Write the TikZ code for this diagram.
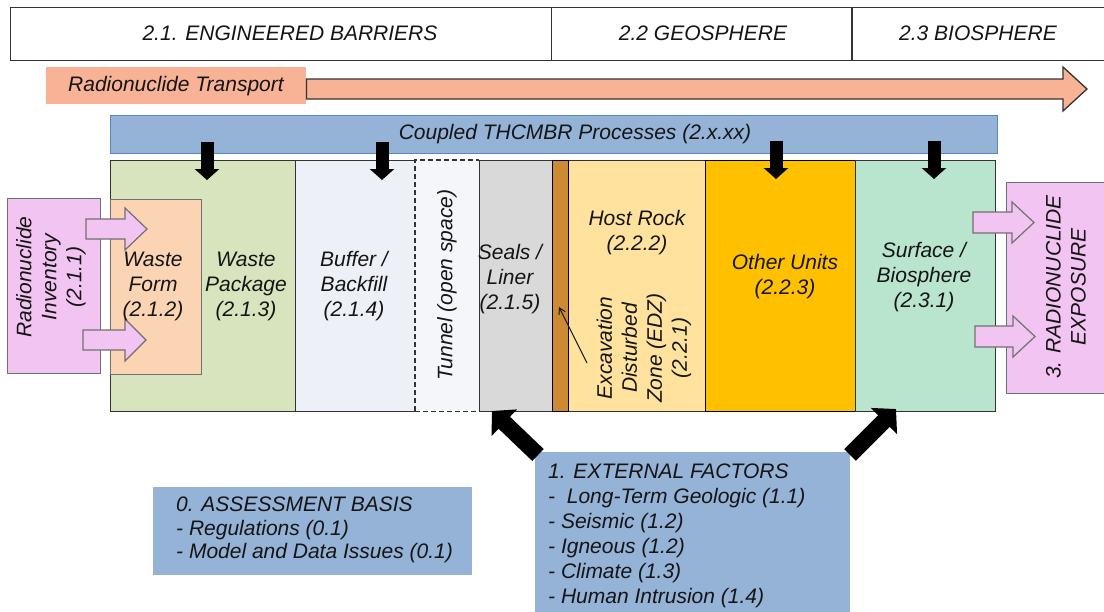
\documentclass[tikz,border=0pt]{standalone}
\usepackage{fontspec}
\setmainfont{Liberation Sans}
\usetikzlibrary{arrows.meta}

\definecolor{ink}{HTML}{151515}
\definecolor{edge}{HTML}{333333}
\definecolor{softedge}{HTML}{707070}
\definecolor{salmon}{HTML}{F8B296}
\definecolor{steel}{HTML}{95B3D7}
\definecolor{steeledge}{HTML}{5B87C0}
\definecolor{wpgreen}{HTML}{D7E4BD}
\definecolor{peach}{HTML}{FBD4B4}
\definecolor{orchid}{HTML}{F2C4F2}
\definecolor{bufferfill}{HTML}{EEF0F8}
\definecolor{tunnelfill}{HTML}{F5F6FA}
\definecolor{sealgray}{HTML}{D9D9D9}
\definecolor{edzbrown}{HTML}{CC8A33}
\definecolor{hostfill}{HTML}{FEE29E}
\definecolor{otherfill}{HTML}{FFC000}
\definecolor{surffill}{HTML}{B9E5CF}

\begin{document}
\begin{tikzpicture}[x=1pt,y=-1pt,
  rectbox/.style={draw=edge, line width=1.3pt, inner sep=0pt, anchor=north west},
  lbl/.style={font=\fontsize{21}{25}\selectfont\itshape, align=center, text=ink, inner sep=0pt},
  lefttext/.style={font=\fontsize{21}{25}\selectfont\itshape, align=left, text=ink, inner sep=0pt, anchor=north west},
  downarr/.style={line width=13pt, black, -{Triangle[width=24pt,length=11pt]}},
  bigarr/.style={line width=16.5pt, black, -{Triangle[width=36pt,length=17pt]}},
  blockarr/.style={fill=orchid, draw=softedge, line width=1.2pt, line join=miter},
]
\useasboundingbox (0,0) rectangle (1104,611);
\clip (0,0) rectangle (1104,611);

% section header
\node[rectbox, fill=white, minimum width=541pt, minimum height=53pt] (hdrEB) at (10,7) {};
\node[rectbox, fill=white, minimum width=301pt, minimum height=53pt] (hdrGEO) at (551,7) {};
\node[rectbox, fill=white, minimum width=260pt, minimum height=53pt] (hdrBIO) at (852,7) {};
\draw[edge, line width=2.4pt] (hdrBIO.north west) -- (hdrBIO.south west);
\node[lbl] (tEB) at (290,33) {2.1. ENGINEERED BARRIERS};
\node[lbl] (tGEO) at (703,33) {2.2 GEOSPHERE};
\node[lbl] (tBIO) at (978,33) {2.3 BIOSPHERE};

% radionuclide transport
\node[inner sep=0pt, anchor=north west, fill=salmon, minimum width=260pt, minimum height=37pt] (trans) at (46,67) {};
\node[lbl] (tTrans) at (176,86) {Radionuclide Transport};
\filldraw[fill=salmon, draw=edge, line width=1.3pt, line join=miter]
  (trans.east |- 0,79) -- (1063,79) -- (1063,67) -- (1087,89) -- (1063,111) -- (1063,99) -- (trans.east |- 0,99) -- cycle;

% coupled processes band
\node[rectbox, fill=steel, draw=steeledge, line width=1pt, minimum width=887pt, minimum height=38pt] (coupled) at (110,115) {};
\node[lbl] (tCoupled) at (575,134) {Coupled THCMBR Processes (2.x.xx)};

% barrier and geosphere compartments
\node[rectbox, fill=wpgreen, minimum width=185pt, minimum height=251pt] (wp) at (110,160) {};
\node[rectbox, fill=bufferfill, minimum width=120pt, minimum height=251pt] (buf) at (295,160) {};
\node[inner sep=0pt, anchor=north west, fill=tunnelfill, minimum width=64pt, minimum height=251pt] (tun) at (415,160) {};
\draw[edge, line width=1.1pt, dash pattern=on 5pt off 3pt] (tun.south west) -- (tun.north west) -- (tun.north east);
\draw[edge, line width=1.1pt, dash pattern=on 5pt off 3pt] (tun.south west) -- (tun.south east);
\node[rectbox, fill=sealgray, minimum width=73pt, minimum height=251pt] (seal) at (479,160) {};
\node[rectbox, fill=hostfill, minimum width=137pt, minimum height=251pt] (host) at (568,160) {};
\node[rectbox, fill=edzbrown, draw=black, minimum width=16pt, minimum height=251pt] (edz) at (552,160) {};
\node[rectbox, fill=otherfill, draw=black, minimum width=150pt, minimum height=251pt] (other) at (705,160) {};
\node[rectbox, fill=surffill, minimum width=140pt, minimum height=251pt] (surf) at (855,160) {};

\node[rectbox, fill=peach, draw=softedge, minimum width=91pt, minimum height=175pt] (wf) at (110,199) {};
\node[rectbox, fill=orchid, draw=softedge, minimum width=93pt, minimum height=175pt] (inv) at (7,198) {};
\node[rectbox, fill=orchid, draw=softedge, minimum width=110pt, minimum height=211pt] (expo) at (1006,182) {};

% inventory release arrows
\filldraw[blockarr] (86,219) -- (125,219) -- (125,208) -- (147,229) -- (125,250) -- (125,239) -- (86,239) -- cycle;
\filldraw[blockarr] (83,330) -- (125,330) -- (125,319) -- (146,340) -- (125,361) -- (125,350) -- (83,350) -- cycle;
% exposure arrows
\filldraw[blockarr] (973,212) -- (1012,212) -- (1012,202) -- (1034,222.5) -- (1012,243) -- (1012,233) -- (973,233) -- cycle;
\filldraw[blockarr] (975,326) -- (1013,326) -- (1013,316) -- (1035,336.5) -- (1013,357) -- (1013,347) -- (975,347) -- cycle;

% compartment labels
\node[lbl] (tInv) at (51,277) [rotate=90] {Radionuclide\\Inventory\\(2.1.1)};
\node[lbl] (tWF) at (153,286) {Waste\\Form\\(2.1.2)};
\node[lbl] (tWP) at (246,286) {Waste\\Package\\(2.1.3)};
\node[lbl] (tBuf) at (354,286) {Buffer /\\Backfill\\(2.1.4)};
\node[lbl] (tTun) at (447,285) [rotate=90] {Tunnel (open space)};
\node[lbl] (tSeal) at (510,279) {Seals /\\Liner\\(2.1.5)};
\node[lbl] (tHost) at (637,233) {Host Rock\\(2.2.2)};
\node[lbl] (tEDZ) at (644,348) [rotate=90] {Excavation\\Disturbed\\Zone (EDZ)\\(2.2.1)};
\node[lbl] (tOther) at (785,277) {Other Units\\(2.2.3)};
\node[lbl] (tSurf) at (924,277) {Surface /\\Biosphere\\(2.3.1)};
\node[lbl] (tExpo) at (1066,287) [rotate=90] {3. RADIONUCLIDE\\EXPOSURE};

% EDZ pointer
\coordinate (edzTail) at (587,363);
\coordinate (edzTip) at (559,307);
\draw[ink, line width=1pt, -{Straight Barb[length=6pt,width=7pt]}] (edzTail) -- (edzTip);

% coupled process arrows
\coordinate (d1) at (207,142); \coordinate (e1) at (207,180);
\coordinate (d2) at (382,142); \coordinate (e2) at (382,180);
\coordinate (d3) at (776,141); \coordinate (e3) at (776,179);
\coordinate (d4) at (934,141); \coordinate (e4) at (934,179);
\draw[downarr] (d1) -- (e1);
\draw[downarr] (d2) -- (e2);
\draw[downarr] (d3) -- (e3);
\draw[downarr] (d4) -- (e4);

% assessment basis and external factors
\node[inner sep=0pt, anchor=north west, fill=steel, minimum width=319pt, minimum height=88pt] (basis) at (153,487) {};
\node[lefttext, font=\fontsize{21}{23.5}\selectfont\itshape] (tBasis) at (176,497)
  {0. ASSESSMENT BASIS\\- Regulations (0.1)\\- Model and Data Issues (0.1)};
\node[inner sep=0pt, anchor=north west, fill=steel, minimum width=315pt, minimum height=170pt] (ext) at (535,452) {};
\node[lefttext] (tExt) at (548,464)
  {1. EXTERNAL FACTORS\\-\ \ Long-Term Geologic (1.1)\\- Seismic (1.2)\\- Igneous (1.2)\\- Climate (1.3)\\- Human Intrusion (1.4)};

% external factors acting on the system
\coordinate (xL) at (538,455); \coordinate (xLtip) at (492,411);
\coordinate (xR) at (850,455); \coordinate (xRtip) at (896,409);
\draw[bigarr] (xL) -- (xLtip);
\draw[bigarr] (xR) -- (xRtip);
\end{tikzpicture}
\end{document}
